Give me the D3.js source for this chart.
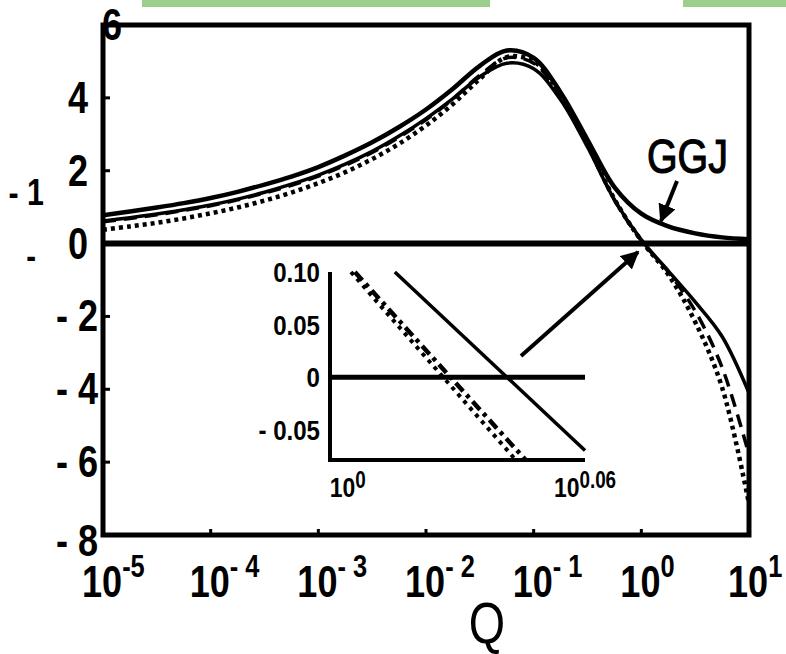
<!DOCTYPE html>
<html>
<head>
<meta charset="utf-8">
<script src="https://cdn.jsdelivr.net/npm/d3@7"></script>
<style>
  body { margin: 0; background: #fff; }
  svg { display: block; }
  text { font-family: 'Liberation Sans', Arial, sans-serif; fill: #000; }
</style>
</head>
<body>
<svg id="chart" width="786" height="654"></svg>
<script>

// ---- data ----
// sample points in log10(Q)
var logQ = [-5, -4.75, -4.5, -4.25, -4, -3.75, -3.5, -3.25, -3, -2.75, -2.5, -2.25, -2,
            -1.75, -1.5, -1.25, -1, -0.75, -0.5, -0.25, 0, 0.25, 0.5, 0.75, 1];

var ggjVals    = [0.78, 0.88, 0.99, 1.11, 1.25, 1.42, 1.62, 1.84, 2.1, 2.42, 2.78, 3.2, 3.68,
                  4.25, 4.88, 5.3, 5.1, 4.15, 2.85, 1.55, 0.82, 0.47, 0.28, 0.17, 0.12];
var solidVals  = [0.62, 0.71, 0.81, 0.93, 1.06, 1.22, 1.41, 1.63, 1.88, 2.18, 2.53, 2.95, 3.43,
                  3.98, 4.58, 4.95, 4.8, 3.95, 2.65, 1.2, 0.1, -0.75, -1.6, -2.55, -4.1];
var dashedVals = [0.6, 0.69, 0.79, 0.91, 1.04, 1.2, 1.39, 1.6, 1.85, 2.15, 2.5, 2.92, 3.4,
                  3.97, 4.62, 5.1, 4.95, 4.05, 2.7, 1.2, 0.08, -0.78, -1.85, -3.4, -5.8];
var dottedVals = [0.38, 0.47, 0.57, 0.69, 0.83, 0.99, 1.18, 1.4, 1.66, 1.96, 2.32, 2.74, 3.24,
                  3.83, 4.52, 5.12, 5.0, 4.1, 2.72, 1.22, 0.08, -0.85, -2.15, -3.95, -7.15];

var yTicks = [6, 4, 2, 0, -2, -4, -6, -8];
var yTickLabels = ["6", "4", "2", "0", "- 2", "- 4", "- 6", "- 8"];
var xExps = [-5, -4, -3, -2, -1, 0, 1];
var xSupLabels = ["-5", "- 4", "- 3", "- 2", "- 1", "0", "1"];

// inset (zoom near the zero crossing)
var insetLogQ_solid   = [0.0119, 0.06];
var insetVals_solid   = [0.1, -0.0695];
var insetLogQ_dashdot = [0.0018, 0.045];
var insetVals_dashdot = [0.1, -0.0786];
var insetLogQ_dotted  = [0.0008, 0.0425];
var insetVals_dotted  = [0.1, -0.0786];
var insetYTicks = [0.10, 0.05, 0, -0.05];
var insetYLabels = ["0.10", "0.05", "0", "- 0.05"];
var insetXExps = [0, 0.06];
var insetXSup = ["0", "0.06"];

var svg = d3.select('#chart');
var NARROW = 0.82;   // fake a condensed face by squeezing

// text helper: squeezed horizontally around its anchor point
function label(px, py, str, size, weight, anchor, sx){
  return svg.append('text')
    .attr('transform', 'translate(' + px + ',' + py + ') scale(' + (sx || NARROW) + ',1)')
    .attr('text-anchor', anchor || 'start')
    .style('font-size', size + 'px')
    .style('font-weight', weight || 'normal')
    .text(str);
}

// stray green bars along the top edge
svg.append('rect').attr('x', 142).attr('y', 0).attr('width', 348).attr('height', 7).attr('fill', '#9dcf8c');
svg.append('rect').attr('x', 683).attr('y', 0).attr('width', 103).attr('height', 7).attr('fill', '#9dcf8c');

var pLeft = 103, pRight = 749, pTop = 25, pBottom = 535;

var x = d3.scaleLog().domain([1e-5, 10]).range([pLeft, pRight]);
var y = d3.scaleLinear().domain([-8, 6]).range([pBottom, pTop]);

svg.append('clipPath').attr('id', 'plotclip')
  .append('rect').attr('x', pLeft).attr('y', pTop).attr('width', pRight - pLeft).attr('height', pBottom - pTop);

function series(vals){
  return logQ.map(function(lq, i){ return [Math.pow(10, lq), vals[i]]; });
}

var line = d3.line()
  .x(function(d){ return x(d[0]); })
  .y(function(d){ return y(d[1]); })
  .curve(d3.curveCatmullRom.alpha(0.5));

var curves = [
  {vals: dottedVals, w: 4.5, dash: '4,4'},
  {vals: dashedVals, w: 3.5, dash: '13,8'},
  {vals: solidVals, w: 3.5, dash: null},
  {vals: ggjVals, w: 4.5, dash: null}
];

var cg = svg.append('g').attr('clip-path', 'url(#plotclip)');
curves.forEach(function(c){
  cg.append('path')
    .datum(series(c.vals))
    .attr('d', line)
    .attr('fill', 'none')
    .attr('stroke', '#000')
    .attr('stroke-width', c.w)
    .attr('stroke-dasharray', c.dash);
});

// zero line
svg.append('line')
  .attr('x1', pLeft).attr('x2', pRight)
  .attr('y1', y(0)).attr('y2', y(0))
  .attr('stroke', '#000').attr('stroke-width', 6);

// frame
svg.append('rect')
  .attr('x', pLeft).attr('y', pTop)
  .attr('width', pRight - pLeft).attr('height', pBottom - pTop)
  .attr('fill', 'none').attr('stroke', '#000').attr('stroke-width', 5);

// ticks (inward)
yTicks.forEach(function(t){
  svg.append('line').attr('x1', pLeft).attr('x2', pLeft + 7)
    .attr('y1', y(t)).attr('y2', y(t)).attr('stroke', '#000').attr('stroke-width', 3);
});
xExps.forEach(function(e){
  svg.append('line').attr('x1', x(Math.pow(10, e))).attr('x2', x(Math.pow(10, e)))
    .attr('y1', pBottom).attr('y2', pBottom - 6).attr('stroke', '#000').attr('stroke-width', 3);
});

// y tick labels
yTicks.forEach(function(t, i){
  var tx = t < 0 ? 98 : 88;
  var ty = y(t) + 15;
  if (t === 6) { tx = 122; ty = 40; }
  if (t === -8) { ty = 556; }
  label(tx, ty, yTickLabels[i], 44, 'bold', 'end');
});

// x tick labels 10^n
xExps.forEach(function(e, i){
  var t = label(x(Math.pow(10, e)) - 21, 597, '', 44, 'bold', 'start');
  t.append('tspan').text('10');
  t.append('tspan').attr('dy', -20).style('font-size', '31px').text(xSupLabels[i]);
});

// axis title
label(487, 643, 'Q', 57, 'normal', 'middle');

// stray left labels
label(44, 205, '- 1', 37, 'bold', 'end');
label(36, 268, '-', 36, 'bold', 'end');

// GGJ label and arrow
svg.append('defs').append('marker')
  .attr('id', 'arrowhead')
  .attr('viewBox', '0 0 10 10').attr('refX', 9).attr('refY', 5)
  .attr('markerWidth', 4.5).attr('markerHeight', 4.5)
  .attr('orient', 'auto')
  .append('path').attr('d', 'M0,0 L10,5 L0,10 z').attr('fill', '#000');

label(647, 173, 'GGJ', 48, 'normal', 'start')
  .attr('stroke', '#000').attr('stroke-width', 1.2);
svg.append('line').attr('x1', 677).attr('y1', 181).attr('x2', 661).attr('y2', 221)
  .attr('stroke', '#000').attr('stroke-width', 4).attr('marker-end', 'url(#arrowhead)');

// arrow from inset to the crossing
svg.append('line').attr('x1', 521).attr('y1', 356).attr('x2', 638).attr('y2', 252)
  .attr('stroke', '#000').attr('stroke-width', 4).attr('marker-end', 'url(#arrowhead)');

// ---- inset ----
var ix = d3.scaleLog().domain([Math.pow(10, -0.0045), Math.pow(10, 0.06)]).range([330, 585]);
var iy = d3.scaleLinear().domain([-0.0786, 0.1]).range([460, 272]);

var iline = d3.line()
  .x(function(d){ return ix(d[0]); })
  .y(function(d){ return iy(d[1]); });

function iseries(lq, vals){
  return lq.map(function(l, i){ return [Math.pow(10, l), vals[i]]; });
}

var insetCurves = [
  {d: iseries(insetLogQ_dotted, insetVals_dotted), w: 4, dash: '4,5'},
  {d: iseries(insetLogQ_dashdot, insetVals_dashdot), w: 4.5, dash: '11,5,4,5'},
  {d: iseries(insetLogQ_solid, insetVals_solid), w: 3.5, dash: null}
];
insetCurves.forEach(function(c){
  svg.append('path').datum(c.d).attr('d', iline)
    .attr('fill', 'none').attr('stroke', '#000')
    .attr('stroke-width', c.w).attr('stroke-dasharray', c.dash);
});

svg.append('line').attr('x1', 330).attr('x2', 585).attr('y1', iy(0)).attr('y2', iy(0))
  .attr('stroke', '#000').attr('stroke-width', 5);
svg.append('path')
  .attr('d', 'M' + ix.range()[0] + ',' + iy.range()[1] + 'V' + iy.range()[0] + 'H' + ix.range()[1])
  .attr('fill', 'none').attr('stroke', '#000').attr('stroke-width', 4);

insetYTicks.forEach(function(t, i){
  label(320, iy(t) + 10, insetYLabels[i], 28, 'bold', 'end', 0.86);
});
insetXExps.forEach(function(e, i){
  var t = label(ix(Math.pow(10, e)), 497, '', 28, 'bold', 'middle');
  t.append('tspan').text('10');
  t.append('tspan').attr('dy', -9).style('font-size', '23px').text(insetXSup[i]);
});

</script>
</body>
</html>
